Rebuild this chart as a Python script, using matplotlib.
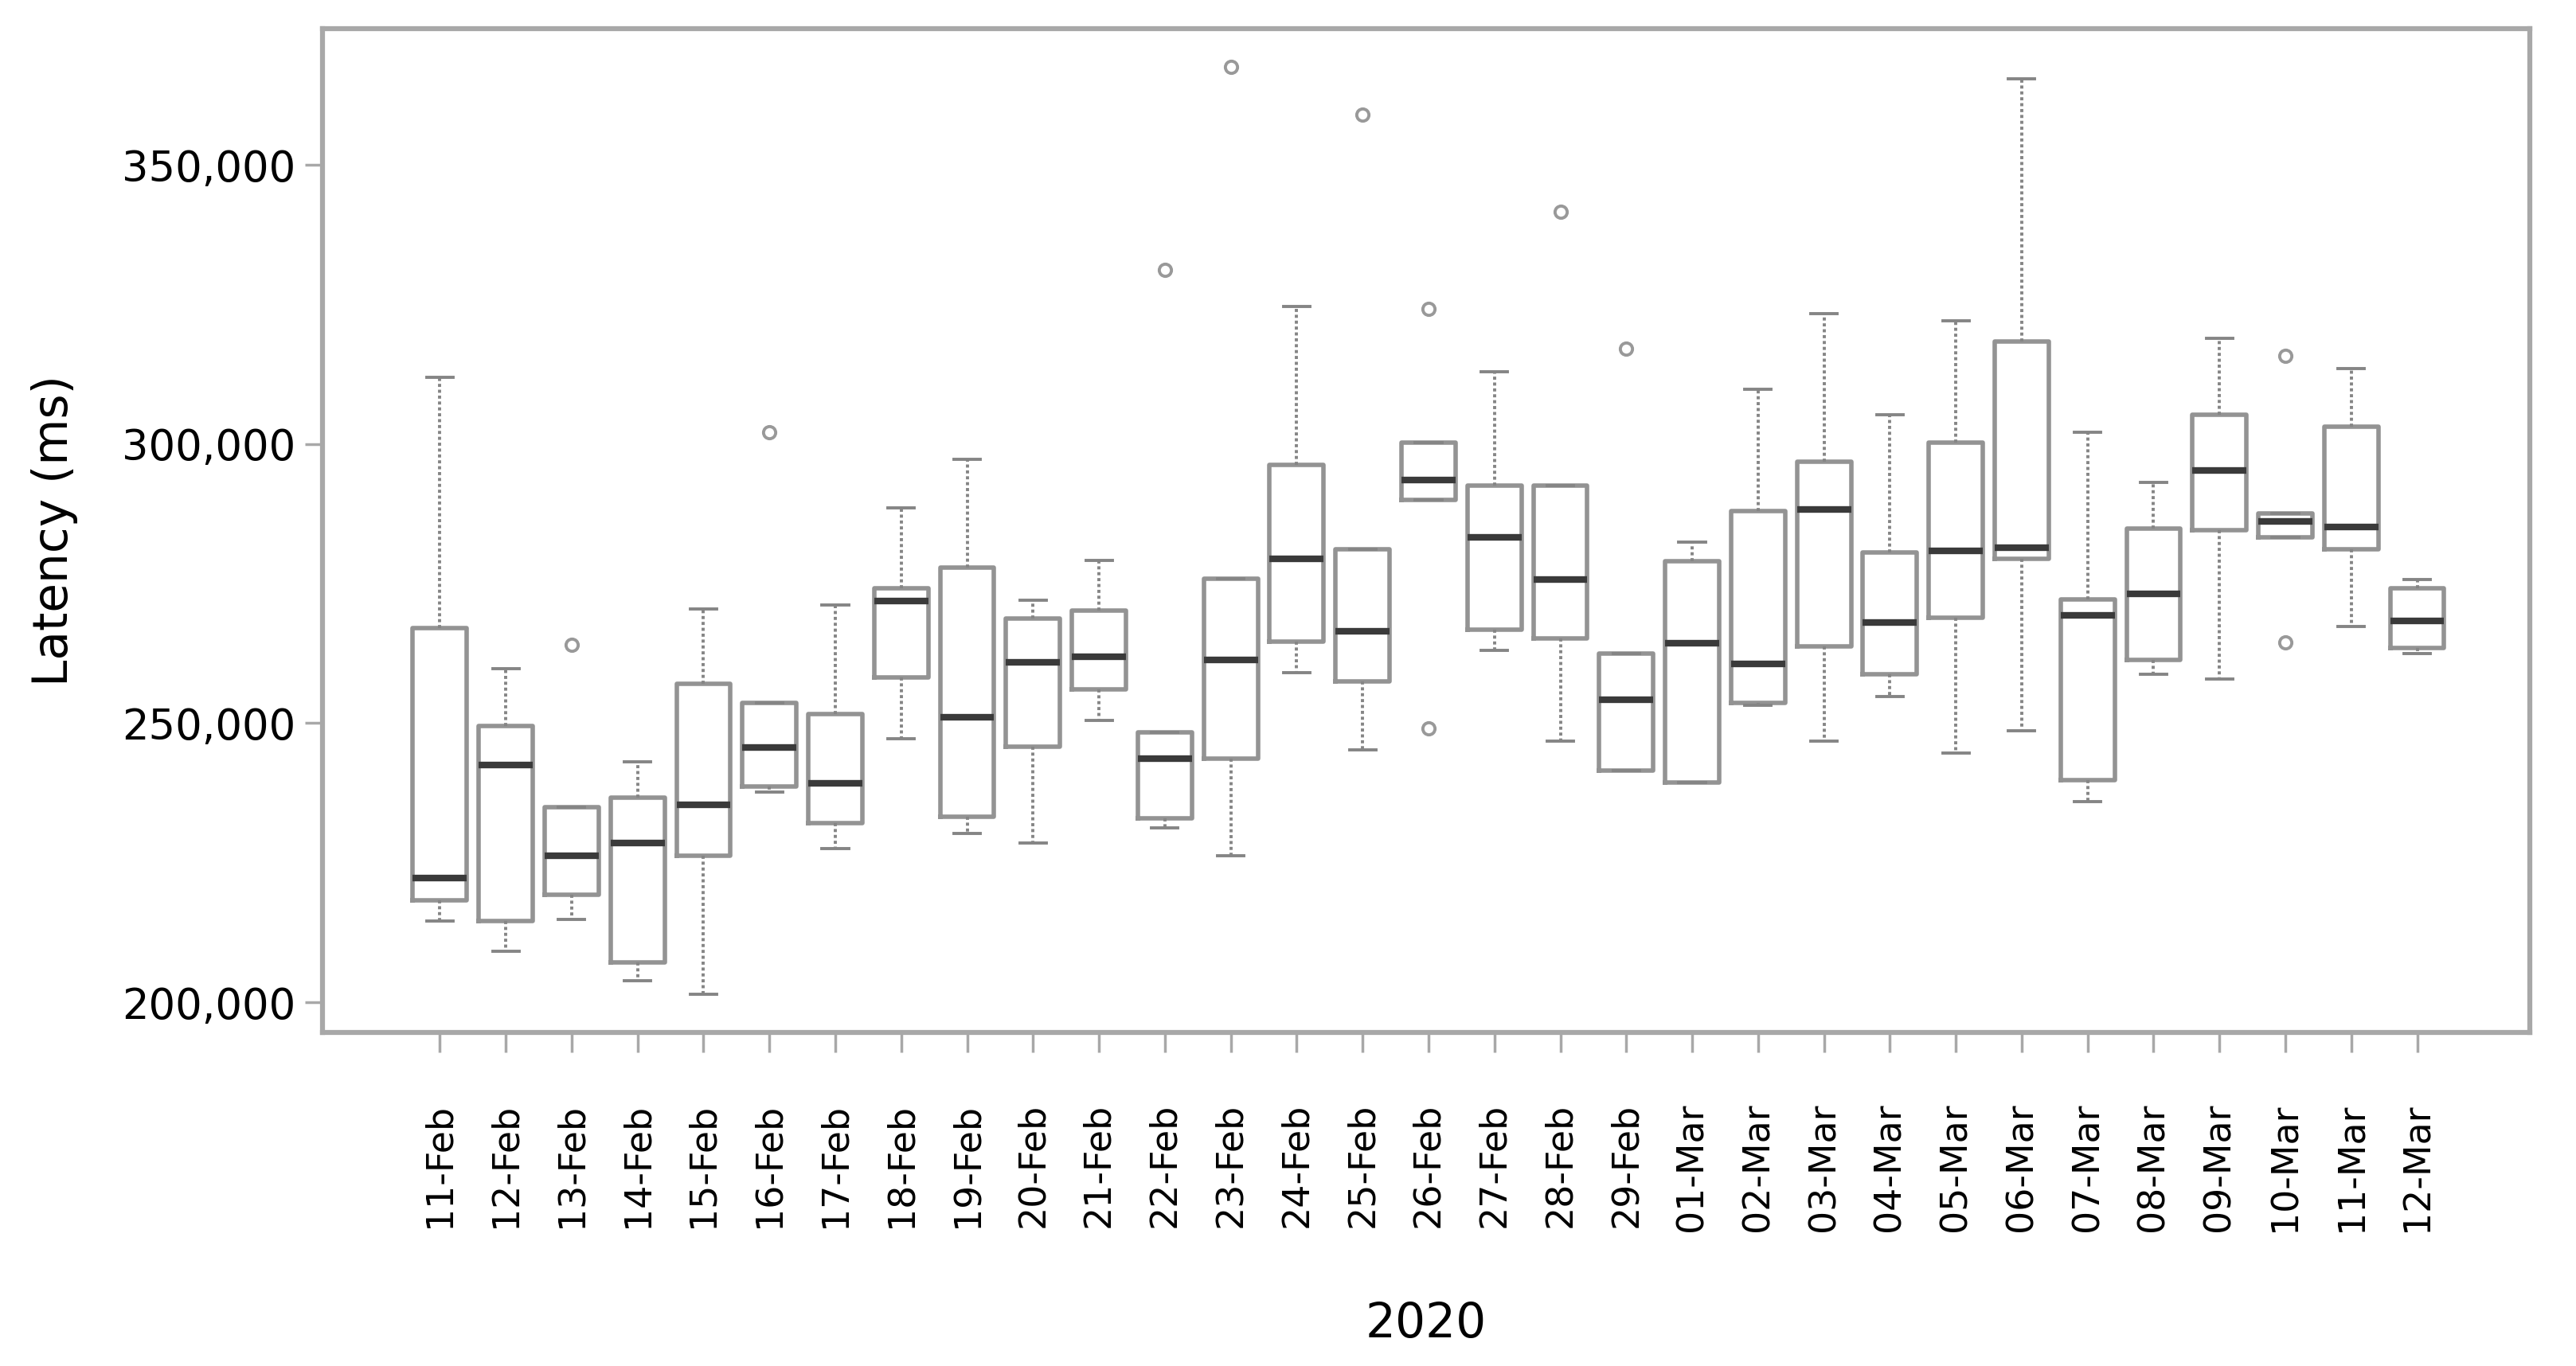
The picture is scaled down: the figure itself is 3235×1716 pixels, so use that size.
import matplotlib
matplotlib.use("Agg")
import matplotlib.pyplot as plt
from matplotlib.ticker import FuncFormatter

categories = ["11-Feb", "12-Feb", "13-Feb", "14-Feb", "15-Feb", "16-Feb", "17-Feb",
              "18-Feb", "19-Feb", "20-Feb", "21-Feb", "22-Feb", "23-Feb", "24-Feb",
              "25-Feb", "26-Feb", "27-Feb", "28-Feb", "29-Feb", "01-Mar", "02-Mar",
              "03-Mar", "04-Mar", "05-Mar", "06-Mar", "07-Mar", "08-Mar", "09-Mar",
              "10-Mar", "11-Mar", "12-Mar"]

whisker_low = [214500, 209100, 214900, 203800, 201400, 237600, 227500,
               247200, 230200, 228600, 250500, 231200, 226200, 259100,
               245200, 290000, 263100, 246800, 241500, 239400, 253200,
               246800, 254800, 244700, 248600, 236000, 258800, 257900,
               283300, 267300, 262500]
q1 = [218300, 214500, 219200, 207100, 226300, 238600, 232100,
      258200, 233300, 245800, 256000, 233000, 243700, 264600,
      257500, 290000, 266700, 265200, 241500, 239400, 253600,
      263800, 258800, 268900, 279400, 239800, 261300, 284500,
      283300, 281200, 263400]
median = [222200, 242500, 226300, 228600, 235400, 245600, 239200,
          271900, 251100, 260900, 261900, 243700, 261300, 279400,
          266500, 293500, 283300, 275700, 254200, 264300, 260600,
          288300, 268100, 280800, 281500, 269300, 273200, 295300,
          286100, 285100, 268300]
q3 = [267100, 249500, 234900, 236600, 257000, 253600, 251700,
      274200, 277800, 268700, 270100, 248300, 275900, 296200,
      281200, 300200, 292500, 292500, 262500, 279000, 288000,
      296800, 280600, 300200, 318300, 272200, 284900, 305200,
      287600, 303100, 274200]
whisker_high = [311900, 259700, 234900, 243100, 270500, 253600, 271100,
                288600, 297200, 272000, 279100, 248300, 275900, 324600,
                281200, 300200, 312900, 292500, 262500, 282400, 309800,
                323300, 305200, 322100, 365400, 302100, 293100, 318900,
                287600, 313500, 275700]
outliers = [[], [], [264000], [], [], [302100], [],
            [], [], [], [], [331200], [367600], [],
            [359000], [324200, 249000], [], [341600], [317100], [], [],
            [], [], [], [], [], [], [],
            [315800, 264400], [], []]

y_ticks = [200000, 250000, 300000, 350000]
x_title = "2020"
y_title = "Latency (ms)"

stats = []
for i, name in enumerate(categories):
    stats.append(dict(label=name, whislo=whisker_low[i], q1=q1[i], med=median[i],
                      q3=q3[i], whishi=whisker_high[i], fliers=outliers[i]))

fig = plt.figure(figsize=(32.35, 17.16), dpi=100)
ax = fig.add_axes([0.1252, 0.2442, 0.8569, 0.7348])

grey = "#939393"
ax.bxp(stats, positions=range(1, len(categories) + 1), widths=0.82,
       capwidths=0.4, patch_artist=False,
       boxprops=dict(color=grey, linewidth=4.0),
       medianprops=dict(color="#3a3a3a", linewidth=6.0),
       whiskerprops=dict(color="#858585", linewidth=2.8, linestyle=(0, (1.0, 0.9))),
       capprops=dict(color="#858585", linewidth=2.8),
       flierprops=dict(marker="o", markersize=11, markerfacecolor="none",
                       markeredgecolor="#999999", markeredgewidth=2.8))

ax.set_xlim(-0.78, 32.71)
ax.set_ylim(194600, 374400)
ax.set_yticks(y_ticks)
ax.yaxis.set_major_formatter(FuncFormatter(lambda v, p: f"{int(v):,}"))
ax.set_xticks(range(1, len(categories) + 1))
ax.set_xticklabels(categories, rotation=90, fontsize=33)
ax.tick_params(axis="y", labelsize=38, length=16, width=2.5, color="#a8a8a8", pad=8)
ax.tick_params(axis="x", length=18, width=2.5, color="#a8a8a8", pad=46)
for s in ax.spines.values():
    s.set_color("#a8a8a8")
    s.set_linewidth(4.5)

ax.set_xlabel(x_title, fontsize=43, labelpad=62)
ax.set_ylabel(y_title, fontsize=43, labelpad=40)

fig.savefig("out.png", dpi=100, facecolor="white")
